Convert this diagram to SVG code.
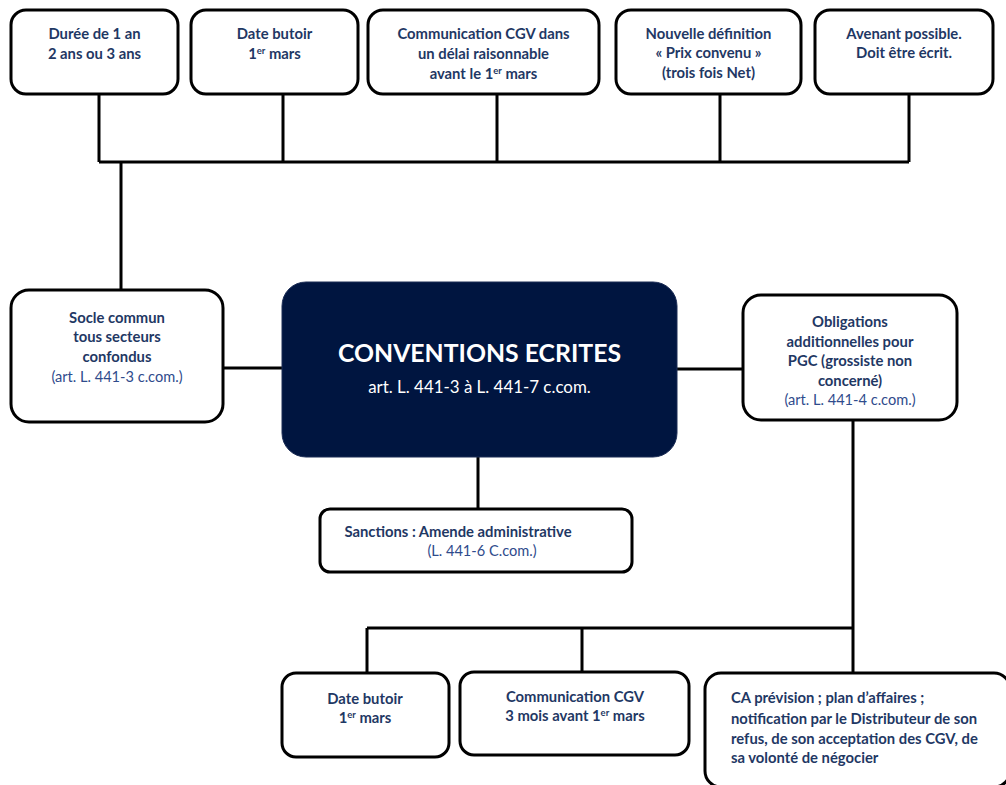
<svg xmlns="http://www.w3.org/2000/svg" width="1006" height="785" viewBox="0 0 1006 785">
<style>
.box{fill:#fff;stroke:#000;stroke-width:3}
.ln{fill:none;stroke:#000;stroke-width:3}
.t{font-family:Lato,"Liberation Sans",sans-serif;font-weight:bold;font-size:14.8px;fill:#1F3864;text-anchor:middle}
.r{font-family:Lato,"Liberation Sans",sans-serif;font-size:14.6px;fill:#2F4B8C;text-anchor:middle}
.sup{font-size:9.5px}
.l{text-anchor:start}
</style>
<rect width="1006" height="785" fill="#fff"/>
<g id="connectors">
<path class="ln" d="M99 94V162M283 94V162M497 94V162M720 94V162M909 94V162M99 162H909M121 162V290"/>
<path class="ln" d="M223 368H284M676 369H743M478 457V509"/>
<path class="ln" d="M853 420V672M367 628H853M367 628V672M582 628V672"/>
</g>
<g id="top1"><rect class="box" x="11" y="10" width="167" height="84" rx="15"/>
<text class="t" x="94.5" y="39">Durée de 1 an</text><text class="t" x="94.5" y="59">2 ans ou 3 ans</text></g>
<g id="top2"><rect class="box" x="191" y="10" width="167" height="84" rx="15"/>
<text class="t" x="274.5" y="39">Date butoir</text><text class="t" x="274.5" y="59">1<tspan class="sup" dy="-5">er</tspan><tspan dy="5"> mars</tspan></text></g>
<g id="top3"><rect class="box" x="368" y="10" width="231" height="84" rx="15"/>
<text class="t" x="483.5" y="39">Communication CGV dans</text><text class="t" x="483.5" y="59">un délai raisonnable</text><text class="t" x="483.5" y="79">avant le 1<tspan class="sup" dy="-5">er</tspan><tspan dy="5"> mars</tspan></text></g>
<g id="top4"><rect class="box" x="616" y="10" width="185" height="84" rx="15"/>
<text class="t" x="708.5" y="39">Nouvelle définition</text><text class="t" x="708.5" y="58">« Prix convenu »</text><text class="t" x="708.5" y="78">(trois fois Net)</text></g>
<g id="top5"><rect class="box" x="815" y="10" width="178" height="84" rx="15"/>
<text class="t" x="904" y="39">Avenant possible.</text><text class="t" x="904" y="58">Doit être écrit.</text></g>
<g id="left"><rect class="box" x="11" y="290" width="212" height="132" rx="18"/>
<text class="t" x="117" y="323">Socle commun</text><text class="t" x="117" y="342">tous secteurs</text><text class="t" x="117" y="362">confondus</text><text class="r" x="117" y="382">(art. L. 441-3 c.com.)</text></g>
<g id="center"><rect x="282" y="282" width="395" height="175" rx="24" fill="#001540" stroke="#1B2C55" stroke-width="1"/>
<text x="479.5" y="362" text-anchor="middle" font-family="Lato,'Liberation Sans',sans-serif" font-weight="bold" font-size="24.8px" fill="#fff">CONVENTIONS ECRITES</text>
<text x="479.5" y="393" text-anchor="middle" font-family="Lato,'Liberation Sans',sans-serif" font-size="16.9px" fill="#fff">art. L. 441-3 à L. 441-7 c.com.</text></g>
<g id="right"><rect class="box" x="743" y="295" width="214" height="125" rx="18"/>
<text class="t" x="850" y="327">Obligations</text><text class="t" x="850" y="347">additionnelles pour</text><text class="t" x="850" y="366">PGC (grossiste non</text><text class="t" x="850" y="386">concerné)</text><text class="r" x="850" y="405">(art. L. 441-4 c.com.)</text></g>
<g id="sanctions"><rect class="box" x="320" y="509" width="312" height="63" rx="10"/>
<text class="t" x="458" y="537">Sanctions : Amende administrative</text><text class="r" x="482" y="556">(L. 441-6 C.com.)</text></g>
<g id="bot1"><rect class="box" x="282" y="673" width="167" height="84" rx="14"/>
<text class="t" x="365" y="704">Date butoir</text><text class="t" x="365" y="723">1<tspan class="sup" dy="-5">er</tspan><tspan dy="5"> mars</tspan></text></g>
<g id="bot2"><rect class="box" x="460" y="672" width="229" height="83" rx="14"/>
<text class="t" x="575" y="702">Communication CGV</text><text class="t" x="575" y="721">3 mois avant 1<tspan class="sup" dy="-5">er</tspan><tspan dy="5"> mars</tspan></text></g>
<g id="bot3"><rect class="box" x="705" y="673" width="305" height="114" rx="16"/>
<text class="t l" x="731" y="703">CA prévision ; plan d’affaires ;</text><text class="t l" x="731" y="724">notification par le Distributeur de son</text><text class="t l" x="731" y="744">refus, de son acceptation des CGV, de</text><text class="t l" x="731" y="763">sa volonté de négocier</text></g>
</svg>
